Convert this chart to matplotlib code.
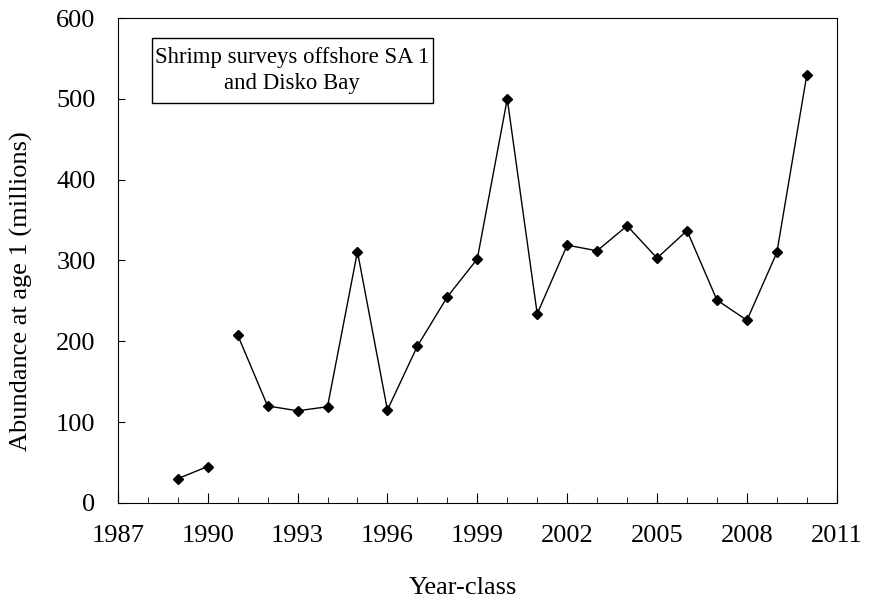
import numpy as np
from matplotlib import pyplot as plt
from matplotlib.patches import Rectangle

plt.rcParams['font.family'] = ['Liberation Serif', 'DejaVu Serif']

years = [1989, 1990, 1991, 1992, 1993, 1994, 1995, 1996, 1997, 1998, 1999,
         2000, 2001, 2002, 2003, 2004, 2005, 2006, 2007, 2008, 2009, 2010]
abundance = [30, 45, 208, 120, 114, 119, 311, 115, 194, 255, 302,
             500, 234, 319, 312, 343, 303, 337, 251, 226, 310, 530]
# no survey link between 1990 and 1991
break_after = 1990
xticks = list(range(1987, 2012, 3))

fig = plt.figure(figsize=(8.79, 6.03), dpi=100)
ax = fig.add_axes([0.134, 0.166, 0.818, 0.804])

yrs = np.array(years, dtype=float)
vals = np.array(abundance, dtype=float)
i = years.index(break_after) + 1
ax.plot(yrs[:i], vals[:i], color='black', lw=1, marker='D', ms=5.5)
ax.plot(yrs[i:], vals[i:], color='black', lw=1, marker='D', ms=5.5)

ax.set_xlim(1987, 2011)
ax.set_ylim(0, 600)
ax.set_xticks(xticks)
ax.set_xticks(range(1987, 2012), minor=True)
ax.set_yticks(range(0, 601, 100))
ax.tick_params(axis='both', which='major', direction='in', length=7, labelsize=19, pad=16)
ax.tick_params(axis='x', which='minor', direction='in', length=4)
ax.tick_params(axis='y', which='major', length=5)

ax.set_xlabel('Year-class', fontsize=19)
ax.xaxis.set_label_coords(0.48, -0.175)
ax.xaxis.label.set_va('center')
ax.set_ylabel('Abundance at age 1 (millions)', fontsize=19)
ax.yaxis.set_label_coords(-0.1335, 0.436)
ax.yaxis.label.set_va('center')

ax.add_patch(Rectangle((0.047, 0.825), 0.391, 0.134, transform=ax.transAxes,
                       fc='white', ec='black', lw=1, zorder=3))
ax.text(0.2425, 0.892, 'Shrimp surveys offshore SA 1\nand Disko Bay', transform=ax.transAxes,
        ha='center', va='center', fontsize=16.4, linespacing=1.35, zorder=4)

fig.savefig('out.png', dpi=100)
